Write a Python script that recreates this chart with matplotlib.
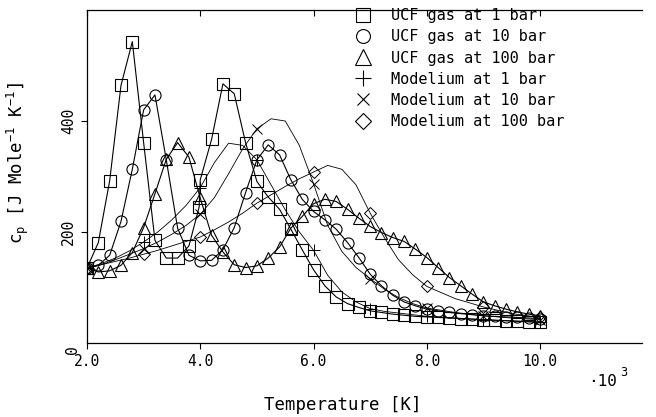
import numpy as np
import matplotlib
matplotlib.use("Agg")
import matplotlib.pyplot as plt
from matplotlib.lines import Line2D

# ---------------- data ----------------
T_ucf = [2.0, 2.2, 2.4, 2.6, 2.8, 3.0, 3.2, 3.4, 3.6, 3.8, 4.0, 4.2, 4.4, 4.6, 4.8,
         5.0, 5.2, 5.4, 5.6, 5.8, 6.0, 6.2, 6.4, 6.6, 6.8, 7.0, 7.2, 7.4, 7.6, 7.8,
         8.0, 8.2, 8.4, 8.6, 8.8, 9.0, 9.2, 9.4, 9.6, 9.8, 10.0]
# the 1 bar set has an extra point just below 4.0 K
T_ucf1 = [2.0, 2.2, 2.4, 2.6, 2.8, 3.0, 3.2, 3.4, 3.6, 3.8, 3.98, 4.0, 4.2, 4.4, 4.6, 4.8,
          5.0, 5.2, 5.4, 5.6, 5.8, 6.0, 6.2, 6.4, 6.6, 6.8, 7.0, 7.2, 7.4, 7.6, 7.8,
          8.0, 8.2, 8.4, 8.6, 8.8, 9.0, 9.2, 9.4, 9.6, 9.8, 10.0]

ucf_1bar = [135, 181, 292, 464, 543, 361, 185, 153, 153, 175, 245, 294, 367, 467, 449, 361,
            291, 263, 241, 205, 168, 132, 103, 83, 71, 64, 58, 55, 52, 50, 48,
            47, 46, 45, 44, 43, 42, 41, 40, 39, 38, 37]
ucf_10bar = [135, 140, 158, 219, 313, 420, 447, 330, 207, 158, 148, 149, 168, 208, 271,
             330, 357, 339, 294, 259, 237, 222, 205, 181, 154, 124, 103, 86, 74, 67,
             61, 58, 55, 53, 51, 49, 48, 47, 46, 45, 44]
ucf_100bar = [135, 128, 130, 140, 163, 208, 269, 331, 361, 335, 261, 194, 164, 141, 136,
              139, 153, 173, 207, 228, 251, 259, 255, 241, 225, 210, 199, 190, 183, 169,
              154, 136, 118, 103, 88, 74, 67, 61, 56, 52, 49]

T_mod = [2.0, 2.25, 2.5, 2.75, 3.0, 3.25, 3.5, 3.75, 4.0, 4.25, 4.5, 4.75, 5.0, 5.25,
         5.5, 5.75, 6.0, 6.25, 6.5, 6.75, 7.0, 7.25, 7.5, 7.75, 8.0, 8.5, 9.0, 9.5, 10.0]
mod_1bar = [135, 143, 153, 166, 182, 200, 222, 248, 280, 325, 360, 356, 330, 285,
            240, 200, 167, 122, 92, 74, 62, 57, 54, 51, 48, 45, 42, 40, 38]
mod_10bar = [135, 141, 150, 160, 170, 182, 196, 212, 232, 262, 305, 350, 386, 404,
             400, 356, 287, 212, 165, 136, 116, 97, 82, 71, 63, 55, 49, 45, 42]
mod_100bar = [135, 141, 147, 153, 160, 167, 175, 183, 191, 204, 218, 234, 252, 267,
              282, 296, 308, 320, 313, 285, 234, 190, 150, 123, 102, 80, 65, 53, 46]
mark_T = [2.0, 3.0, 4.0, 5.0, 6.0, 7.0, 8.0, 9.0, 10.0]

labels = ["UCF gas at 1 bar", "UCF gas at 10 bar", "UCF gas at 100 bar",
          "Modelium at 1 bar", "Modelium at 10 bar", "Modelium at 100 bar"]

# ---------------- figure ----------------
plt.rcParams['font.family'] = ['DejaVu Sans Mono']
fig = plt.figure(figsize=(6.56, 4.17), dpi=100)
ax = fig.add_axes([87/656, 1-343/417, (642-87)/656, (343-10)/417])

mk = dict(color='black', mfc='none', mec='black', mew=0.8, lw=0.8)
ax.plot(T_ucf1, ucf_1bar, marker='s', ms=8, **mk)
ax.plot(T_ucf, ucf_10bar, marker='o', ms=8, **mk)
ax.plot(T_ucf, ucf_100bar, marker='^', ms=9, **mk)

mev = [T_mod.index(t) for t in mark_T]
mk2 = dict(color='black', mfc='none', mec='black', mew=0.7, lw=0.6, markevery=mev)
ax.plot(T_mod, mod_1bar, marker='+', ms=9, **mk2)
ax.plot(T_mod, mod_10bar, marker='x', ms=7, **mk2)
ax.plot(T_mod, mod_100bar, marker='D', ms=6, **mk2)

ax.set_xlim(2.0, 11.8)
ax.set_ylim(0, 600)
ax.set_xticks([2, 4, 6, 8, 10])
ax.set_xticklabels(["2.0", "4.0", "6.0", "8.0", "10.0"], fontsize=10.5)
ax.set_yticks([200, 400])
ax.set_yticklabels(["200", "400"], rotation=90, va='center', fontsize=10.5)
ax.tick_params(axis='both', direction='out', length=4, width=0.8, pad=4)
ax.spines['right'].set_visible(False)
for s in ['left', 'bottom', 'top']:
    ax.spines[s].set_linewidth(0.9)

# inward ticks on the top edge
top = ax.secondary_xaxis('top')
top.set_xticks([2, 4, 6, 8, 10])
top.tick_params(direction='in', length=4, width=0.8, labeltop=False)
top.spines['top'].set_visible(False)

# corner "0"
fig.text(72/656, 1-350/417, "0", rotation=90, ha='center', va='center', fontsize=10.5)

# legend
handles = [
    Line2D([], [], ls='none', marker='s', ms=10, mfc='none', mec='black', mew=0.8),
    Line2D([], [], ls='none', marker='o', ms=10, mfc='none', mec='black', mew=0.8),
    Line2D([], [], ls='none', marker='^', ms=11, mfc='none', mec='black', mew=0.8),
    Line2D([], [], ls='none', marker='+', ms=11, mfc='none', mec='black', mew=0.8),
    Line2D([], [], ls='none', marker='x', ms=9, mfc='none', mec='black', mew=0.8),
    Line2D([], [], ls='none', marker='D', ms=8, mfc='none', mec='black', mew=0.8),
]
ax.legend(handles, labels, loc='upper left', bbox_to_anchor=(0.483, 1.005),
          frameon=False, fontsize=11, handlelength=1.0, handletextpad=1.35,
          labelspacing=0.40, borderpad=0.0, borderaxespad=0.0)

ax.set_xlabel("Temperature [K]", fontsize=12.5)
ax.xaxis.set_label_coords(0.46, -0.16)
ax.set_ylabel(r"c$_\mathregular{p}$ [J Mole$^{\mathregular{-1}}$ K$^{\mathregular{-1}}$]",
              fontsize=12.5)
ax.yaxis.set_label_coords(-0.10, 0.54)
fig.text(588/656, 1-381/417, "·10", fontsize=11.5, ha='left', va='center')
fig.text(620/656, 1-373/417, "3", fontsize=8.5, ha='left', va='center')

fig.savefig("out.png", dpi=100)
